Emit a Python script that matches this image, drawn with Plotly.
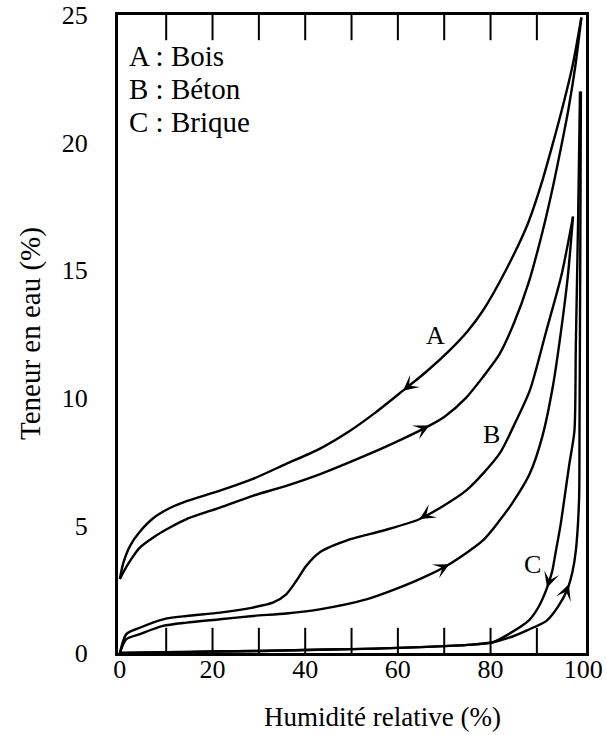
import numpy as np
import plotly.graph_objects as go

# ---- data ----
# A : Bois (wood)
A_des_x = [0, 0.7, 2.2, 4.3, 7.2, 10.8, 14.4, 21.6, 28.7, 35.9, 43.1, 49.6, 55, 61.1, 66, 71.1, 75, 78.3, 83.3, 88, 91, 93.5, 95.7, 97.8, 99.6]
A_des_y = [2.9, 3.5, 4.2, 4.75, 5.28, 5.68, 5.95, 6.36, 6.82, 7.41, 8.0, 8.7, 9.4, 10.28, 11.0, 11.85, 12.6, 13.4, 15.0, 16.8, 18.4, 20.0, 21.5, 23.1, 24.9]
A_ads_x = [0, 0.7, 2.2, 4.3, 7.2, 10.8, 14.4, 21.6, 28.7, 35.9, 43.1, 53.2, 60, 66.8, 70, 74.7, 78.3, 81.9, 85, 88.2, 91.2, 93.5, 95.2, 96.8, 98.3, 99.6]
A_ads_y = [2.9, 3.15, 3.61, 4.13, 4.53, 4.92, 5.25, 5.70, 6.16, 6.55, 7.0, 7.75, 8.3, 8.91, 9.25, 10.0, 10.8, 11.7, 12.9, 14.5, 16.5, 18.3, 19.8, 21.3, 23.0, 24.9]

# B : Béton (concrete)
B_des_x = [0, 1.4, 4.3, 9.3, 14.4, 21.6, 28.7, 33, 35.9, 38.1, 40.2, 43.1, 49.6, 56.7, 64.7, 74.7, 81.9, 85, 88.5, 92, 95.3, 97.8]
B_des_y = [0, 0.74, 0.99, 1.32, 1.45, 1.58, 1.78, 1.97, 2.30, 2.83, 3.41, 3.94, 4.45, 4.79, 5.25, 6.36, 7.8, 8.9, 10.3, 12.6, 14.8, 17.1]
B_ads_x = [0, 1.4, 4.3, 9.3, 14.4, 21.6, 28.7, 35.9, 43.1, 53.2, 60.3, 66, 71.1, 78.3, 81.9, 84.8, 88.4, 91.2, 93.5, 95.2, 96.7, 97.8]
B_ads_y = [0, 0.54, 0.74, 1.06, 1.19, 1.32, 1.45, 1.55, 1.71, 2.1, 2.56, 3.0, 3.48, 4.40, 5.18, 5.9, 7.0, 8.5, 10.5, 12.6, 14.8, 17.1]

# C : Brique (brick)
C_des_x = [0, 10, 20, 30, 40, 50, 60, 70, 76, 80.5, 84, 88.4, 90.5, 92.2, 93.3, 94.1, 95.1, 95.9, 97.0, 98.1, 98.4, 98.9, 99.3]
C_des_y = [0, 0.03, 0.06, 0.08, 0.12, 0.15, 0.2, 0.27, 0.33, 0.42, 0.75, 1.3, 1.85, 2.56, 3.2, 4.0, 5.0, 6.0, 7.4, 8.7, 12.0, 17.0, 22.0]
C_ads_x = [0, 10, 20, 30, 40, 50, 60, 70, 76, 80.5, 84, 88, 92, 94.5, 96.6, 97.7, 98.4, 99.1, 99.2, 99.35, 99.5]
C_ads_y = [0, 0.03, 0.06, 0.08, 0.12, 0.15, 0.2, 0.27, 0.33, 0.42, 0.6, 0.9, 1.25, 1.8, 2.5, 3.2, 4.0, 6.0, 8.7, 15.0, 22.0]

# arrow positions along each branch (x of the arrow head) and its direction
ARROWS = [("A_des", 61.1, -1), ("A_ads", 66.8, +1),
          ("B_des", 64.7, -1), ("B_ads", 71.1, +1),
          ("C_des", 92.2, -1), ("C_ads", 96.9, +1)]

CURVE_LABELS = ["A", "B", "C"]
CURVE_LABEL_X = [68.2, 80.1, 89.1]
CURVE_LABEL_Y = [12.44, 8.58, 3.48]

KEY_LINES = ["A : Bois", "B : Béton", "C : Brique"]
KEY_Y = [23.4, 22.1, 20.8]

X_LABELS = [0, 20, 40, 60, 80, 100]
X_MARKS = [10, 20, 30, 40, 50, 60, 70, 80, 90]   # inside tick marks, top and bottom
Y_TICKS = [0, 5, 10, 15, 20, 25]
X_RANGE = [-0.4, 100.6]
Y_RANGE = [0, 25]

series = {
    "A_des": (A_des_x, A_des_y), "A_ads": (A_ads_x, A_ads_y),
    "B_des": (B_des_x, B_des_y), "B_ads": (B_ads_x, B_ads_y),
    "C_des": (C_des_x, C_des_y), "C_ads": (C_ads_x, C_ads_y),
}

FONT = "Liberation Serif, serif"
TICK_LEN = 18
fig = go.Figure()
for name, (xs, ys) in series.items():
    fig.add_trace(go.Scatter(x=xs, y=ys, mode="lines", name=name,
                             line=dict(color="black", width=2.4, shape="spline", smoothing=0.7),
                             showlegend=False, hoverinfo="skip"))

# inside tick marks on the bottom and top edges (half of each symbol is clipped by the plot area)
for yedge in (Y_RANGE[0], Y_RANGE[1]):
    fig.add_trace(go.Scatter(x=X_MARKS, y=[yedge] * len(X_MARKS), mode="markers", cliponaxis=True,
                             marker=dict(symbol="line-ns", size=2 * TICK_LEN,
                                         line=dict(color="black", width=2)),
                             showlegend=False, hoverinfo="skip"))

annotations = []
for name, xh, d in ARROWS:
    xs, ys = series[name]
    yh = float(np.interp(xh, xs, ys))
    dx = 0.6 if name.startswith("C") else 2.0
    xt = xh - d * dx
    yt = float(np.interp(xt, xs, ys))
    annotations.append(dict(x=xh, y=yh, ax=xt, ay=yt, xref="x", yref="y", axref="x", ayref="y",
                            text="", showarrow=True, arrowhead=3, arrowsize=1.3, arrowwidth=2,
                            arrowcolor="black", standoff=0, startstandoff=0))

for t, x, y in zip(CURVE_LABELS, CURVE_LABEL_X, CURVE_LABEL_Y):
    annotations.append(dict(x=x, y=y, text=t, showarrow=False, xref="x", yref="y",
                            xanchor="center", yanchor="middle",
                            font=dict(family=FONT, size=26, color="black")))

for t, y in zip(KEY_LINES, KEY_Y):
    annotations.append(dict(x=1.6, y=y, text=t, showarrow=False, xref="x", yref="y",
                            xanchor="left", yanchor="middle",
                            font=dict(family=FONT, size=29, color="black")))

annotations.append(dict(x=0.566, y=-0.1, xref="paper", yref="paper", text="Humidité relative (%)",
                        xanchor="center", yanchor="middle",
                        showarrow=False, font=dict(family=FONT, size=27, color="black")))
annotations.append(dict(x=-0.188, y=0.5, xref="paper", yref="paper", text="Teneur en eau (%)",
                        xanchor="center", yanchor="middle",
                        textangle=-90, showarrow=False, font=dict(family=FONT, size=29, color="black")))

fig.update_layout(
    width=607, height=735,
    margin=dict(l=118, r=21, t=15, b=82, autoexpand=False),
    paper_bgcolor="white", plot_bgcolor="white",
    annotations=annotations,
    font=dict(family=FONT, size=26, color="black"),
)
fig.update_xaxes(range=X_RANGE, tickmode="array", tickvals=X_LABELS, ticks="",
                 showline=True, linewidth=3, linecolor="black", mirror=True,
                 showgrid=False, zeroline=False, automargin=False, ticklabelstandoff=-9,
                 tickfont=dict(family=FONT, size=26, color="black"))
fig.update_yaxes(range=Y_RANGE, tickmode="array", tickvals=Y_TICKS, ticks="", showline=True, linewidth=3,
                 linecolor="black", mirror=True, showgrid=False, zeroline=False, automargin=False,
                 ticklabelstandoff=22, tickfont=dict(family=FONT, size=26, color="black"))

fig.write_html("out.html")
